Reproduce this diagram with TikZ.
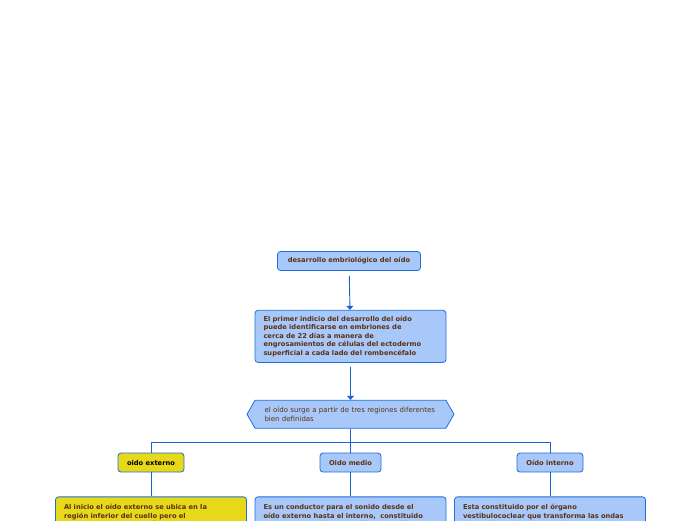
\documentclass[tikz,border=0pt]{standalone}
\usepackage{fontspec}
\setmainfont{DejaVu Sans}
\usepackage{xcolor}
\usetikzlibrary{positioning,arrows.meta,calc,shapes.symbols}
\definecolor{mmblue}{RGB}{168,200,250}
\definecolor{mmedge}{RGB}{30,110,220}
\definecolor{mmline}{RGB}{25,100,210}
\definecolor{mmtext}{RGB}{90,50,20}
\definecolor{mmyellow}{RGB}{232,216,26}

\begin{document}
\begin{tikzpicture}[
  x=1pt,y=1pt,
  font=\fontsize{6.7}{8.6}\selectfont,
  >={Triangle[length=4pt,width=7pt]},
  % --- mind-map palette ---
  base/.style   ={draw=mmedge,rounded corners=3pt,fill=mmblue,
                  text=mmtext,line width=0.8pt},
  topic/.style  ={base,font=\fontsize{6.7}{8.6}\selectfont\bfseries,
                  minimum width=143pt,minimum height=19pt},
  notebox/.style={base,font=\fontsize{6.7}{8.6}\selectfont\bfseries,
                  align=left,inner xsep=8.5pt,inner ysep=5.5pt},
  hexbox/.style ={draw=mmedge,fill=mmblue,text=mmtext,line width=0.8pt,
                  signal,signal to=west and east,signal pointer angle=120,
                  font=\fontsize{7}{8.5}\selectfont,
                  align=left,text width=172pt,minimum width=207pt,
                  minimum height=28pt,inner xsep=1pt},
  region/.style ={base,font=\fontsize{6.7}{8.6}\selectfont\bfseries,
                  minimum height=19pt,inner xsep=6pt},
  detail/.style ={notebox,text width=174pt,inner ysep=7.5pt},
  flow/.style   ={->,draw=mmline,line width=0.9pt},
  tree/.style   ={draw=mmline,line width=0.9pt},
]
\useasboundingbox (0,0) rectangle (696,520);
\clip (0,0) rectangle (696,520);

% ============================ main chain ============================
\node[topic] (root) at (349,259) {desarrollo embriológico del oído};

\node[notebox,text width=174pt,below=39pt of root,xshift=1.5pt] (first)
  {El primer indicio del desarrollo del oído\\
   puede identificarse en embriones de\\
   cerca de 22 días a manera de\\
   engrosamientos de células del ectodermo\\
   superficial a cada lado del rombencéfalo};

\node[hexbox,below=37pt of first] (regions)
  {el oído surge a partir de tres regiones diferentes\\bien definidas};

\draw[flow,shorten <=5pt] (root) -- (first);
\draw[flow,shorten <=4pt] (first) -- (regions);

% ============================ three regions ============================
\node[region,fill=mmyellow,text=black,below=24pt of regions,xshift=-199.5pt,
      minimum width=66pt] (ext) {oido externo};
\node[region,below=24pt of regions,minimum width=61pt] (mid) {Oido medio};
\node[region,below=24pt of regions,xshift=199.5pt,
      minimum width=66pt] (int) {Oído interno};

\coordinate (bus) at ($(regions.south)+(0,-14pt)$);
\draw[tree] (regions.south) -- (mid.north);
\draw[tree] (ext.north) |- (bus) -| (int.north);

% ============================ details ============================
\node[detail,fill=mmyellow,below=24pt of ext] (extnote)
  {Al inicio el oído externo se ubica en la\\
   región inferior del cuello pero el\\
   crecimiento de la mandíbula lo desplaza\\
   hacia arriba};
\node[detail,below=24pt of mid] (midnote)
  {Es un conductor para el sonido desde el\\
   oído externo hasta el interno,\ \ constituido\\
   por tres pequeños huesecillos: martillo,\\
   yunque y estribo};
\node[detail,below=24pt of int] (intnote)
  {Esta constituido por el órgano\\
   vestibulococlear que transforma las ondas\\
   de sonido en impulsos nerviosos y registra\\
   los cambios del equilibrio};

\draw[tree] (ext) -- (extnote);
\draw[tree] (mid) -- (midnote);
\draw[tree] (int) -- (intnote);
\end{tikzpicture}
\end{document}
